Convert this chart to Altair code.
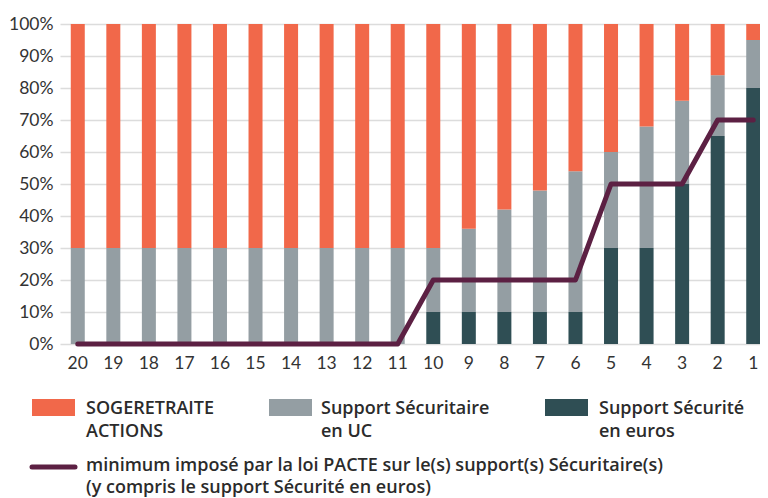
import altair as alt
import pandas as pd

years = ["20", "19", "18", "17", "16", "15", "14", "13", "12", "11",
         "10", "9", "8", "7", "6", "5", "4", "3", "2", "1"]
euros = [0, 0, 0, 0, 0, 0, 0, 0, 0, 0, 10, 10, 10, 10, 10, 30, 30, 50, 65, 80]
uc = [30, 30, 30, 30, 30, 30, 30, 30, 30, 30, 20, 26, 32, 38, 44, 30, 38, 26, 19, 15]
actions = [70, 70, 70, 70, 70, 70, 70, 70, 70, 70, 70, 64, 58, 52, 46, 40, 32, 24, 16, 5]
pacte = [0, 0, 0, 0, 0, 0, 0, 0, 0, 0, 20, 20, 20, 20, 20, 50, 50, 50, 70, 70]

series_names = ["Support Sécurité en euros", "Support Sécuritaire en UC", "SOGERETRAITE ACTIONS"]
series_colors = ["#2F4E54", "#949EA3", "#F1684A"]
line_color = "#5C2043"

legend_labels = ["SOGERETRAITE\nACTIONS", "Support Sécuritaire\nen UC", "Support Sécurité\nen euros"]
legend_colors = ["#F1684A", "#949EA3", "#2F4E54"]
line_label = "minimum imposé par la loi PACTE sur le(s) support(s) Sécuritaire(s)\n(y compris le support Sécurité en euros)"
y_ticks = [0, 10, 20, 30, 40, 50, 60, 70, 80, 90, 100]

FONT = "Lato"
LFONT = "Open Sans"

rows = []
for i, yr in enumerate(years):
    for k, vals in enumerate([euros, uc, actions]):
        rows.append({"year": yr, "series": series_names[k], "value": vals[i], "order": k})
df = pd.DataFrame(rows)
df_line = pd.DataFrame({"year": years, "pacte": pacte})
dummy = pd.DataFrame({"d": [0]})

x_scale = alt.Scale(range=[0, 711], paddingInner=0.6, paddingOuter=0.3)
x_axis = alt.Axis(title=None, labelAngle=0, domain=False, ticks=False, grid=False,
                  labelFont=FONT, labelFontSize=17.5, labelColor="#333333", labelPadding=10)
y_scale = alt.Scale(domain=[0, 100], nice=False)
y_axis = alt.Axis(title=None, values=y_ticks, labelExpr="datum.value + '%'", labelOverlap=False,
                  domain=False, ticks=False, grid=True, gridColor="#dcdcdc",
                  gridWidth=1.5, labelFont=FONT, labelFontSize=17.5,
                  labelColor="#333333", labelPadding=7)

bars = alt.Chart(df).mark_bar(size=14).encode(
    x=alt.X("year:N", sort=years, scale=x_scale, axis=x_axis),
    y=alt.Y("value:Q", stack="zero", scale=y_scale, axis=y_axis),
    color=alt.Color("series:N", scale=alt.Scale(domain=series_names, range=series_colors), legend=None),
    order=alt.Order("order:Q"),
)

line = alt.Chart(df_line).mark_line(color=line_color, strokeWidth=5, strokeCap="round",
                                    strokeJoin="round").encode(
    x=alt.X("year:N", sort=years, scale=x_scale, axis=x_axis),
    y=alt.Y("pacte:Q", scale=y_scale, axis=y_axis),
)

layers = [bars, line]

sw_x = [-28, 209, 485]
tx_x = [26, 261, 539]
for i in range(3):
    layers.append(alt.Chart(dummy).mark_rect(color=legend_colors[i]).encode(
        x=alt.value(sw_x[i]), x2=alt.value(sw_x[i] + 43), y=alt.value(375), y2=alt.value(392)))
    layers.append(alt.Chart(dummy).mark_text(
        align="left", baseline="alphabetic", font=LFONT, fontWeight=600, fontSize=18,
        lineHeight=23, color="#2b2b2b", lineBreak="\n").encode(
        x=alt.value(tx_x[i]), y=alt.value(390), text=alt.value(legend_labels[i])))

layers.append(alt.Chart(dummy).mark_rule(color=line_color, strokeWidth=5, strokeCap="round").encode(
    x=alt.value(-28), x2=alt.value(15), y=alt.value(443)))
layers.append(alt.Chart(dummy).mark_text(
    align="left", baseline="alphabetic", font=LFONT, fontWeight=600, fontSize=18,
    lineHeight=22, color="#2b2b2b", lineBreak="\n").encode(
    x=alt.value(26), y=alt.value(447), text=alt.value(line_label)))

chart = alt.layer(*layers).properties(
    width=700, height=320,
    padding={"left": 52, "top": 16, "right": 0, "bottom": 160},
    autosize="none",
).configure_view(stroke=None)

chart.save("out.html", embed_options={"renderer": "svg", "actions": False})
